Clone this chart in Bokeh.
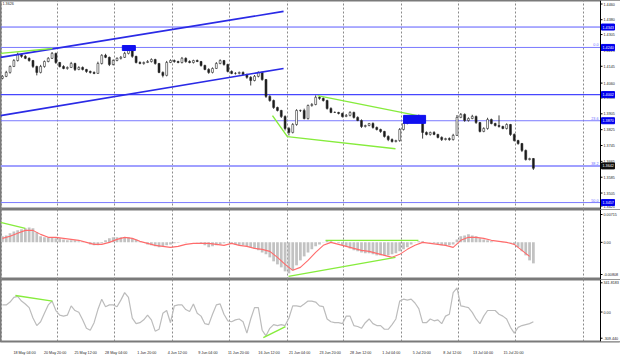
from bokeh.plotting import figure
from bokeh.layouts import column
from bokeh.models import Range1d, FixedTicker, Label, Span, ColumnDataSource
from bokeh.embed import file_html
from bokeh.resources import INLINE
from bokeh.core.properties import value

# ---------------- data ----------------
first_open = 1.4084
close = [
    1.4094, 1.4114, 1.4144, 1.4174, 1.4205, 1.4195, 1.4185, 1.4174, 1.4144, 1.4114,
    1.4144, 1.4169, 1.4185, 1.4210, 1.4164, 1.4144, 1.4134, 1.4139, 1.4159, 1.4129,
    1.4139, 1.4129, 1.4119, 1.4114, 1.4109, 1.4159, 1.4200, 1.4190, 1.4154, 1.4174,
    1.4185, 1.4190, 1.4210, 1.4225, 1.4195, 1.4164, 1.4159, 1.4164, 1.4169, 1.4179,
    1.4159, 1.4114, 1.4099, 1.4164, 1.4174, 1.4169, 1.4164, 1.4185, 1.4169, 1.4164,
    1.4174, 1.4169, 1.4149, 1.4129, 1.4114, 1.4134, 1.4159, 1.4174, 1.4154, 1.4119,
    1.4109, 1.4109, 1.4114, 1.4104, 1.4089, 1.4073, 1.4094, 1.4114, 1.4078, 1.3993,
    1.3972, 1.3937, 1.3922, 1.3892, 1.3831, 1.3811, 1.3851, 1.3922, 1.3922, 1.3881,
    1.3947, 1.3952, 1.3988, 1.3983, 1.3972, 1.3932, 1.3912, 1.3912, 1.3907, 1.3892,
    1.3897, 1.3912, 1.3887, 1.3871, 1.3841, 1.3846, 1.3856, 1.3836, 1.3826, 1.3816,
    1.3791, 1.3775, 1.3765, 1.3770, 1.3826, 1.3856, 1.3861, 1.3871, 1.3876, 1.3892,
    1.3811, 1.3801, 1.3811, 1.3801, 1.3786, 1.3775, 1.3780, 1.3775, 1.3796, 1.3887,
    1.3902, 1.3871, 1.3881, 1.3892, 1.3861, 1.3816, 1.3831, 1.3876, 1.3856, 1.3846,
    1.3841, 1.3831, 1.3851, 1.3801, 1.3770, 1.3755, 1.3720, 1.3674, 1.3679, 1.3630]
wick_up = [
    6, 8, 5, 7, 9, 4, 6, 5, 3, 4,
    8, 5, 6, 7, 4, 3, 6, 5, 8, 4,
    6, 5, 3, 4, 5, 9, 6, 8, 4, 6,
    5, 7, 8, 15, 4, 3, 6, 5, 7, 6,
    4, 3, 5, 8, 6, 5, 4, 7, 5, 6,
    4, 5, 3, 4, 6, 5, 7, 6, 3, 4,
    5, 6, 4, 5, 3, 6, 7, 5, 4, 3,
    6, 5, 4, 3, 5, 8, 7, 6, 4, 9,
    5, 7, 10, 6, 5, 4, 6, 5, 3, 4,
    7, 6, 4, 5, 6, 4, 3, 6, 5, 4,
    3, 5, 6, 4, 7, 6, 5, 8, 6, 9,
    3, 5, 4, 6, 3, 5, 4, 6, 8, 12,
    7, 5, 6, 8, 4, 3, 6, 9, 5, 4,
    51, 4, 6, 3, 5, 4, 3, 5, 4, 3]
wick_dn = [
    5, 4, 6, 3, 5, 7, 4, 6, 8, 15,
    5, 6, 4, 3, 7, 5, 4, 6, 3, 8,
    4, 5, 7, 6, 4, 3, 5, 4, 8, 5,
    4, 6, 3, 5, 7, 5, 4, 6, 3, 5,
    6, 4, 10, 5, 3, 6, 4, 5, 6, 4,
    5, 3, 6, 4, 7, 5, 3, 4, 6, 5,
    4, 6, 5, 3, 7, 25, 4, 5, 6, 8,
    6, 7, 5, 8, 10, 15, 5, 6, 8, 4,
    5, 6, 4, 7, 5, 6, 4, 3, 5, 6,
    4, 5, 6, 3, 7, 5, 4, 6, 5, 7,
    6, 8, 5, 4, 6, 5, 4, 3, 5, 4,
    31, 5, 6, 4, 5, 7, 4, 6, 5, 3,
    4, 6, 5, 3, 7, 5, 4, 6, 4, 5,
    6, 4, 5, 7, 5, 6, 8, 5, 4, 8]
macd_hist = [
    0.00131, 0.00152, 0.00196, 0.00239, 0.00261, 0.00283, 0.00305, 0.00326, 0.00305, 0.00218,
    0.00131, 0.00109, 0.00109, 0.00109, 0.00087, 0.00087, 0.00065, 0.00044, 0.00044, 0.00044,
    0.00022, 0.00022, 0.00005, -0.00044, -0.00065, -0.00065, -0.00022, 0.00044, 0.00087, 0.00109,
    0.00109, 0.00109, 0.00109, 0.00109, 0.00087, 0.00065, 0.00022, -0.00005, -0.00044, -0.00065,
    -0.00087, -0.00109, -0.00087, -0.00065, -0.00044, -0.00022, -0.00008, 0.00003, 0.00006, 0.00004,
    0.00002, -0.00003, -0.00022, -0.00065, -0.00109, -0.00087, -0.00065, -0.00044, -0.00022, -0.00005,
    -0.00022, -0.00044, -0.00065, -0.00065, -0.00087, -0.00109, -0.00131, -0.00174, -0.00218, -0.00261,
    -0.00326, -0.00413, -0.00479, -0.00544, -0.00631, -0.00675, -0.00609, -0.00500, -0.00392, -0.00305,
    -0.00218, -0.00152, -0.00087, -0.00044, -0.00005, 0.00044, 0.00022, -0.00003, -0.00022, -0.00065,
    -0.00087, -0.00131, -0.00174, -0.00196, -0.00218, -0.00239, -0.00239, -0.00261, -0.00283, -0.00283,
    -0.00283, -0.00283, -0.00261, -0.00239, -0.00196, -0.00152, -0.00109, -0.00044, -0.00005, 0.00022,
    0.00022, 0.00003, -0.00004, -0.00022, -0.00044, -0.00065, -0.00065, -0.00065, -0.00044, 0.00065,
    0.00131, 0.00152, 0.00174, 0.00152, 0.00131, 0.00087, 0.00065, 0.00044, 0.00022, 0.00005,
    0.00002, -0.00002, -0.00004, -0.00008, -0.00044, -0.00109, -0.00196, -0.00283, -0.00392, -0.00457]
signal_bars = list(range(0, 140, 2))
macd_signal = [
    0.00087, 0.00131, 0.00196, 0.00261, 0.00261, 0.00174, 0.00109, 0.00109, 0.00087, 0.00065,
    0.00044, 0.00000, -0.00044, -0.00044, 0.00000, 0.00065, 0.00109, 0.00087, 0.00022, -0.00022,
    -0.00065, -0.00087, -0.00109, -0.00087, -0.00044, -0.00022, -0.00022, -0.00022, -0.00044, -0.00065,
    -0.00022, -0.00065, -0.00087, -0.00131, -0.00152, -0.00196, -0.00326, -0.00479, -0.00609, -0.00544,
    -0.00392, -0.00218, -0.00065, 0.00000, -0.00044, -0.00087, -0.00131, -0.00174, -0.00196, -0.00239,
    -0.00283, -0.00326, -0.00261, -0.00152, -0.00065, 0.00000, -0.00022, -0.00044, -0.00065, -0.00109,
    0.00044, 0.00109, 0.00109, 0.00087, 0.00044, 0.00022, 0.00000, -0.00044, -0.00174, -0.00305]
cci = [
    75, 75, 105, 154, 164, 115, 85, 46, -63, -142,
    -102, -13, 75, 115, 16, -33, -43, -33, 65, 16,
    -3, -82, -171, -191, -112, 26, 135, 56, 75, 75,
    56, 125, 204, 154, -63, -122, -112, -82, -33, -82,
    -201, -181, -13, 16, -112, 65, 75, 75, 26, 6,
    85, -13, -43, -122, -132, -23, 75, 85, -23, -92,
    -102, -82, -73, -102, -221, -73, 46, 46, -191, -250,
    -171, -132, -142, -132, -142, -63, 65, 65, 56, 85,
    115, 115, 105, 65, 56, -73, -102, -112, -112, -122,
    -43, -43, -142, -152, -171, -112, -73, -122, -142, -142,
    -181, -181, -132, -73, 115, 135, 125, 135, 95, 36,
    -112, -112, -73, -92, -82, -122, -43, -23, 204, 253,
    65, 56, 46, -3, -73, -122, -43, 16, 16, 16,
    -23, -43, -73, -161, -221, -161, -142, -132, -122, -102]

levels = [1.4343, 1.4240, 1.4002, 1.3870, 1.3642, 1.3457]
fib_levels = [1.4240, 1.3870, 1.3642, 1.3457]
fib_names = ["0.0", "23.6", "38.2", "50.0"]
price_ticks = [1.4460, 1.4380, 1.4305, 1.4225, 1.4145, 1.4060, 1.3985,
               1.3905, 1.3825, 1.3745, 1.3665, 1.3585, 1.3505, 1.3425]
time_bars = [2, 10, 18, 26, 34, 42, 50, 58, 66, 74, 82, 90, 98, 106, 114, 122, 130]
time_labels = ["18 May 04:00", "20 May 20:00", "25 May 12:00", "28 May 04:00",
               "1 Jun 20:00", "4 Jun 12:00", "9 Jun 04:00", "11 Jun 20:00",
               "16 Jun 12:00", "21 Jun 04:00", "23 Jun 20:00", "28 Jun 12:00",
               "1 Jul 04:00", "5 Jul 20:00", "8 Jul 12:00", "13 Jul 04:00",
               "15 Jul 20:00"]
grid_bars = [-0.3, 14.4, 29.3, 44.5, 59.5, 74.6, 89.3, 104.5, 119.4, 134.3, 152.1]
current_price = "1.3626"
macd_top, macd_bottom = 0.00715, -0.00808
cci_top, cci_bottom = 341.8183, -309.440

chan_up_x, chan_up_y = [-0.5, 73.6], [1.4190, 1.4422]
chan_lo_x, chan_lo_y = [-0.5, 73.6], [1.3896, 1.4134]
green1_x, green1_y = [-0.5, 13.1], [1.4210, 1.4235]
green2_x, green2_y = [82.5, 108.7], [1.3997, 1.3896]
green3_x, green3_y = [70.7, 74.6, 102.9], [1.3896, 1.3790, 1.3729]
mg1_x, mg1_y = [-0.5, 6.0], [0.00435, 0.00305]
mg2_x, mg2_y = [84.6, 108.9], [0.00044, 0.00044]
mg3_x, mg3_y = [74.9, 102.9], [-0.00740, -0.00326]
cg1_x, cg1_y = [3.4, 13.1], [174, 115]
cg2_x, cg2_y = [68.3, 74.1], [-270, -152]
tag_x, tag_y = [33.1, 107.9], [1.4237, 1.3877]

N = len(close)
assert all(len(a) == N for a in (wick_up, wick_dn, macd_hist, cci))
assert len(macd_signal) == len(signal_bars)

# ---------------- layout ----------------
PX = 3.82            # pixels per candle
CHART_W = 600        # width of the chart area, left of the price scale
FULL_W = 620
XS = -0.5
AX = XS + CHART_W / PX     # x of the price-scale line
XE = XS + FULL_W / PX
H1, H2, H3 = 209, 70, 78
XAXIS_H = 12
P_LO, P_HI = 1.3422, 1.4477
FONT = "Liberation Sans"
FS = "3.7px"
TXT = "#1e1e1e"
BLUE = "#2a2ae6"
GREEN = "#86ec3c"
LEVEL_COLORS = ["#5a5aff", "#7a7aff", "#4646ff", "#7a7aff", "#a0a0ff", "#7a7aff"]
LEVEL_WIDTHS = [1, 1, 1.3, 1, 2, 1]
TAG_BG = ["#0000ee", "#0000ee", "#0000ee", "#0000ee", "#101010", "#0000ee"]
EDGE_PAD = 3.5       # keep scale labels this many px inside the panel

xr = Range1d(XS, XE)


def base(height, yr, xaxis=False):
    p = figure(frame_width=FULL_W, height=height, x_range=xr, y_range=yr,
               output_backend="svg", toolbar_location=None,
               x_axis_location="below" if xaxis else None,
               y_axis_location=None,
               min_border_left=0, min_border_right=0, min_border_top=0,
               min_border_bottom=XAXIS_H if xaxis else 0)
    p.background_fill_color = "white"
    p.border_fill_color = "white"
    p.outline_line_color = "#7a7a7a"
    p.outline_line_width = 2
    p.ygrid.visible = False
    p.xgrid.ticker = FixedTicker(ticks=grid_bars)
    p.xgrid.grid_line_color = "#8a8a8a"
    p.xgrid.grid_line_dash = "2 2"
    # price-scale strip on the right
    p.quad(left=AX, right=XE, bottom=yr.start, top=yr.end,
           fill_color="white", line_color=None)
    p.add_layout(Span(location=AX, dimension="height", line_color="black",
                      line_width=1))
    return p


def scale_labels(p, ticks, labels, frame_h):
    lo, hi = p.y_range.start, p.y_range.end
    unit = (hi - lo) / frame_h
    ys = [min(max(t, lo + EDGE_PAD * unit), hi - EDGE_PAD * unit) for t in ticks]
    p.text(x=[AX + 3 / PX] * len(ticks), y=ys, text=labels,
           text_font=value(FONT), text_font_size=FS, text_color=TXT,
           text_align="left", text_baseline="middle")
    p.segment(x0=[AX] * len(ticks), y0=ys, x1=[AX + 2 / PX] * len(ticks),
              y1=ys, line_color="black", line_width=1)


# ---------------- main price panel ----------------
p1 = base(H1, Range1d(P_LO, P_HI))
pu = (P_HI - P_LO) / H1

p1.segment(x0=[XS] * len(levels), y0=levels, x1=[AX] * len(levels), y1=levels,
           line_color=LEVEL_COLORS, line_width=LEVEL_WIDTHS)

opens = [first_open] + close[:-1]
tops = [max(o, c) for o, c in zip(opens, close)]
bots = [min(o, c) for o, c in zip(opens, close)]
highs = [t + u * 1e-4 for t, u in zip(tops, wick_up)]
lows = [b - d * 1e-4 for b, d in zip(bots, wick_dn)]
fills = ["white" if c > o else "#1a1a1a" for o, c in zip(opens, close)]
src = ColumnDataSource(dict(x=list(range(N)), top=tops, bottom=bots,
                            high=highs, low=lows, fill=fills))
p1.segment(x0="x", y0="high", x1="x", y1="low", source=src,
           line_color="#2a2a2a", line_width=0.9)
p1.vbar(x="x", top="top", bottom="bottom", width=0.5, fill_color="fill",
        line_color="#2a2a2a", line_width=0.6, source=src)

p1.line(chan_up_x, chan_up_y, line_color=BLUE, line_width=1.6)
p1.line(chan_lo_x, chan_lo_y, line_color=BLUE, line_width=1.6)
for gx, gy in ((green1_x, green1_y), (green2_x, green2_y), (green3_x, green3_y)):
    p1.line(gx, gy, line_color=GREEN, line_width=1.4)

p1.rect(x=tag_x[0], y=tag_y[0], width=13, height=5, width_units="screen",
        height_units="screen", fill_color="#1010f0", line_color="#1010f0")
p1.rect(x=tag_x[1], y=tag_y[1], width=22, height=8, width_units="screen",
        height_units="screen", fill_color="#1010f0", line_color="#1010f0")

p1.text(x=[AX - 2 / PX] * len(fib_levels), y=[v + pu for v in fib_levels],
        text=fib_names, text_font=value(FONT), text_font_size=FS,
        text_color="#6a6aff", text_align="right", text_baseline="bottom")

scale_labels(p1, price_ticks, [f"{t:.4f}" for t in price_ticks], H1)

# tags of the horizontal levels on the price scale
p1.rect(x=[AX + 7.5 / PX] * len(levels), y=levels, width=13, height=6,
        width_units="screen", height_units="screen",
        fill_color=TAG_BG, line_color=TAG_BG)
p1.text(x=[AX + 2 / PX] * len(levels), y=levels,
        text=[f"{v:.4f}" for v in levels], text_font=value(FONT),
        text_font_size=FS, text_color="white", text_align="left",
        text_baseline="middle")

p1.add_layout(Label(x=XS + 2 / PX, y=P_HI - pu, text=current_price,
                    text_font=FONT, text_font_size=FS, text_color=TXT,
                    text_align="left", text_baseline="top"))

# ---------------- MACD panel ----------------
p2 = base(H2, Range1d(macd_bottom, macd_top))
mu = (macd_top - macd_bottom) / H2
p2.vbar(x=list(range(N)), top=macd_hist, bottom=0, width=0.72,
        fill_color="#c2c2c2", line_color=None)
p2.line(signal_bars, macd_signal, line_color="#ff6b6b", line_width=1.1)
for gx, gy in ((mg1_x, mg1_y), (mg2_x, mg2_y), (mg3_x, mg3_y)):
    p2.line(gx, gy, line_color=GREEN, line_width=1.4)
scale_labels(p2, [macd_top - 5 * mu, 0.0, macd_bottom + 5 * mu],
             [f"{macd_top:.5f}", "0.00", f"{macd_bottom:.5f}"], H2)

# ---------------- CCI panel ----------------
p3 = base(H3, Range1d(cci_bottom, cci_top), xaxis=True)
cu = (cci_top - cci_bottom) / (H3 - XAXIS_H)
p3.line(list(range(N)), cci, line_color="#bcbcbc", line_width=1.2)
for gx, gy in ((cg1_x, cg1_y), (cg2_x, cg2_y)):
    p3.line(gx, gy, line_color=GREEN, line_width=1.4)
scale_labels(p3, [cci_top - 2 * cu, 0.0, cci_bottom + 1 * cu],
             [f"{cci_top:.4f}", "0.00", f"{cci_bottom:.3f}"], H3 - XAXIS_H)

LABEL_SHIFT = 14.5 / PX
x_ticks = [b + LABEL_SHIFT for b in time_bars]
xa = p3.xaxis[0]
xa.ticker = FixedTicker(ticks=x_ticks)
xa.major_label_overrides = {t: lab for t, lab in zip(x_ticks, time_labels)}
xa.axis_line_color = None
xa.major_tick_line_color = None
xa.minor_tick_line_color = None
xa.major_label_standoff = 3
xa.major_label_text_font = FONT
xa.major_label_text_font_size = FS
xa.major_label_text_color = TXT

layout = column(p1, p2, p3, spacing=0)
open("out.html", "w").write(file_html(layout, INLINE))
